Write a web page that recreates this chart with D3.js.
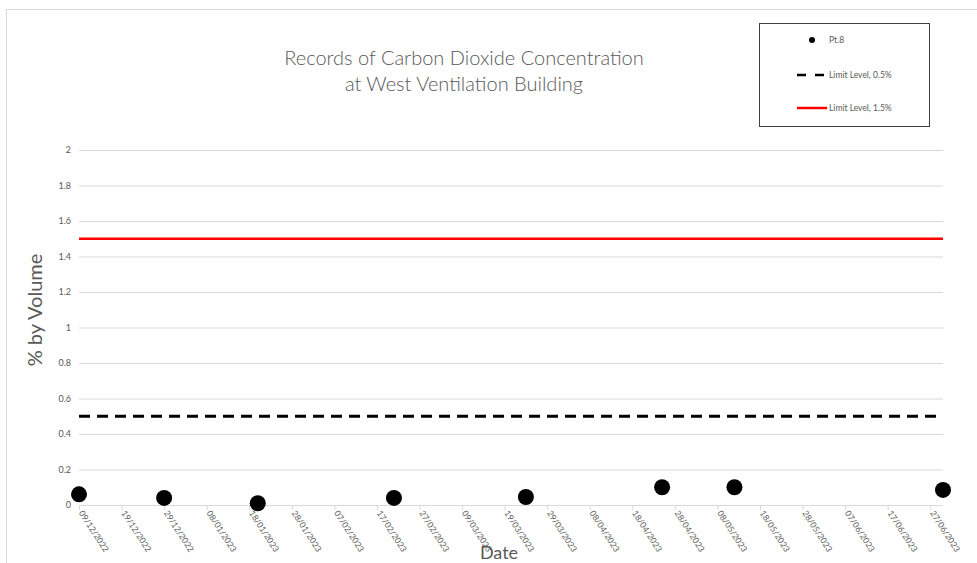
<!DOCTYPE html>
<html><head><meta charset="utf-8">
<script src="https://cdn.jsdelivr.net/npm/d3@7"></script>
<style>body{margin:0;background:#fff;} svg{display:block;font-family:Lato,"Open Sans",sans-serif;}</style>
</head><body><svg id="c" width="977" height="563"></svg>
<script>
const sampleDates = ["09/12/2022","29/12/2022","20/01/2023","21/02/2023","24/03/2023","25/04/2023","12/05/2023","30/06/2023"];
const pt8Values = [0.06,0.04,0.01,0.04,0.045,0.1,0.1,0.085];
const limitLow = 0.5, limitHigh = 1.5;
const xTickLabels = ["09/12/2022","19/12/2022","29/12/2022","08/01/2023","18/01/2023","28/01/2023","07/02/2023","17/02/2023","27/02/2023","09/03/2023","19/03/2023","29/03/2023","08/04/2023","18/04/2023","28/04/2023","08/05/2023","18/05/2023","28/05/2023","07/06/2023","17/06/2023","27/06/2023"];
const yTicks = [0,0.2,0.4,0.6,0.8,1,1.2,1.4,1.6,1.8,2];
const xDomain = ["09/12/2022","30/06/2023"];
const titleLines = ["Records of Carbon Dioxide Concentration","at West Ventilation Building"];
const legendItems = ["Pt.8","Limit Level, 0.5%","Limit Level, 1.5%"];

const parse = d3.utcParse("%d/%m/%Y");
const svg = d3.select("#c");
const grey = "#595959", grid = "#d9d9d9";
const L = 79, R = 943, T = 150, B = 505;

// chart border
svg.append("rect").attr("x",6.5).attr("y",9.5).attr("width",990).attr("height",570).attr("fill","none").attr("stroke",grid);

const x = d3.scaleUtc().domain(xDomain.map(parse)).range([L,R]);
const y = d3.scaleLinear().domain([0,2]).range([B,T]);

// gridlines
svg.append("g").selectAll("line").data(yTicks.slice(1)).join("line")
  .attr("x1",L).attr("x2",R).attr("y1",d=>y(d)+0.5).attr("y2",d=>y(d)+0.5)
  .attr("stroke",grid).attr("stroke-width",1);

// y axis labels
const yAxis = d3.axisLeft(y).tickValues(yTicks).tickSize(0).tickPadding(8).tickFormat(d=>String(d));
const gy = svg.append("g").attr("transform",`translate(${L},0)`).call(yAxis);
gy.select(".domain").remove();
gy.selectAll("text").attr("fill",grey).attr("font-size",9).attr("font-family","Lato,sans-serif");

// x axis
const xAxis = d3.axisBottom(x).tickValues(xTickLabels.map(parse)).tickSize(5).tickFormat(d3.utcFormat("%d/%m/%Y"));
const gx = svg.append("g").attr("transform",`translate(0,${B})`).call(xAxis);
gx.select(".domain").attr("stroke",grid).attr("d",`M${L},0.5H${R}`);
gx.selectAll(".tick line").attr("stroke",grid);
gx.selectAll("text").attr("fill",grey).attr("font-size",8.5).attr("font-family","Lato,sans-serif")
  .attr("text-anchor","start").attr("dy",0).attr("y",0)
  .attr("transform","translate(-1,8) rotate(57)");

// limit lines
svg.append("line").attr("x1",L).attr("x2",R).attr("y1",y(limitLow)).attr("y2",y(limitLow))
  .attr("stroke","#000").attr("stroke-width",2.8).attr("stroke-dasharray","11,7");
svg.append("line").attr("x1",L).attr("x2",R).attr("y1",y(limitHigh)).attr("y2",y(limitHigh))
  .attr("stroke","#ff0000").attr("stroke-width",2.6);

// points
svg.append("g").selectAll("circle").data(sampleDates.map((d,i)=>({d:parse(d),v:pt8Values[i]}))).join("circle")
  .attr("cx",d=>x(d.d)).attr("cy",d=>y(d.v)).attr("r",8).attr("fill","#000");

// title
svg.append("text").attr("x",464).attr("y",65).attr("text-anchor","middle").attr("fill",grey)
  .attr("font-size",20).attr("font-weight",300)
  .selectAll("tspan").data(titleLines).join("tspan").attr("x",464).attr("dy",(d,i)=>i?26:0).text(d=>d);

// axis titles
svg.append("text").attr("transform","translate(42,310) rotate(-90)").attr("text-anchor","middle")
  .attr("fill",grey).attr("font-size",20).text("% by Volume");
svg.append("text").attr("x",499).attr("y",559).attr("text-anchor","middle")
  .attr("fill",grey).attr("font-size",18).text("Date");

// legend
const lg = svg.append("g");
lg.append("rect").attr("x",759.5).attr("y",23.5).attr("width",170).attr("height",103).attr("fill","#fff").attr("stroke","#404040").attr("stroke-width",1);
const ly = [40,75,108];
lg.append("circle").attr("cx",812).attr("cy",ly[0]).attr("r",3).attr("fill","#000");
lg.append("line").attr("x1",797).attr("x2",826).attr("y1",ly[1]).attr("y2",ly[1]).attr("stroke","#000").attr("stroke-width",2.5).attr("stroke-dasharray","9,9");
lg.append("line").attr("x1",797).attr("x2",827).attr("y1",ly[2]).attr("y2",ly[2]).attr("stroke","#ff0000").attr("stroke-width",2.5);
lg.selectAll("text.l").data(legendItems).join("text").attr("class","l")
  .attr("x",829).attr("y",(d,i)=>ly[i]+3).attr("fill",grey).attr("font-size",8.5).text(d=>d);
</script></body></html>
